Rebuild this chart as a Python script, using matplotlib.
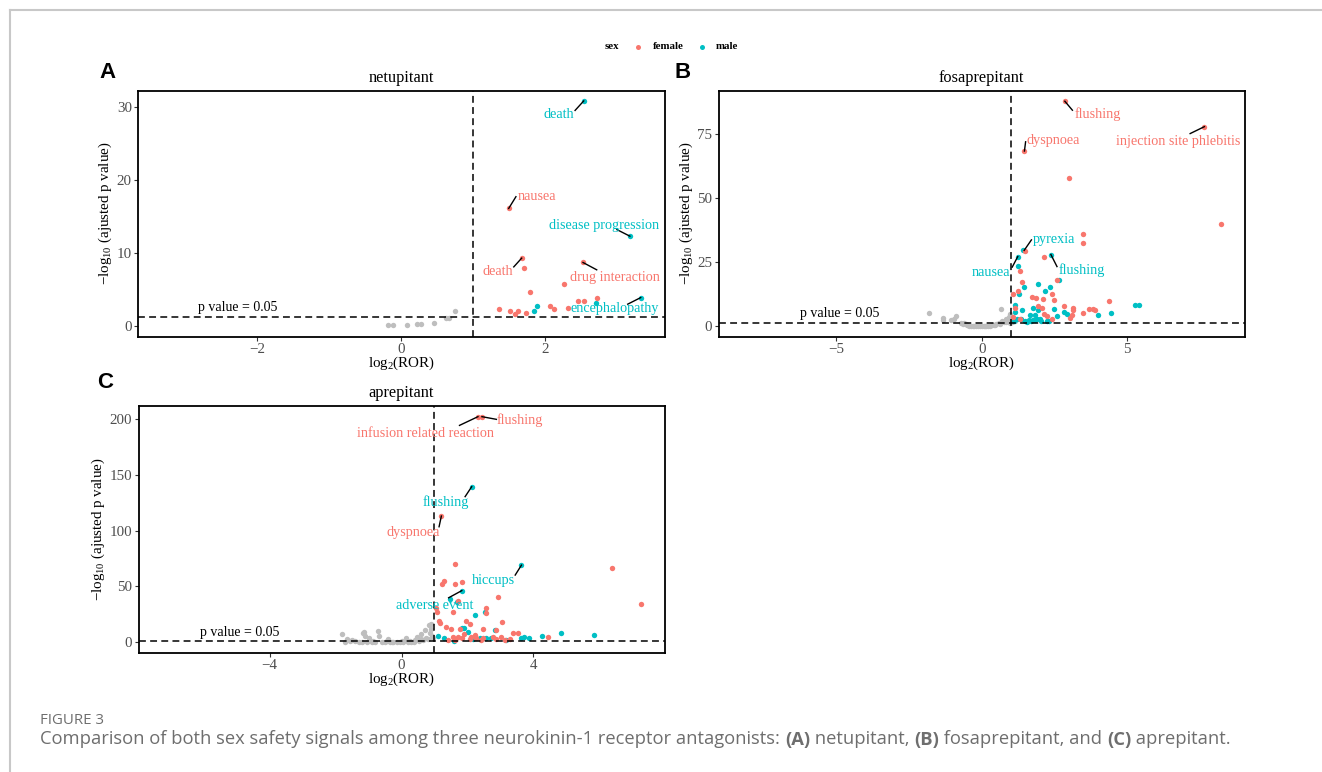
import matplotlib
matplotlib.use("Agg")
import matplotlib.pyplot as plt
from matplotlib.lines import Line2D

plt.rcParams['font.family'] = ['Liberation Serif', 'DejaVu Serif']
plt.rcParams['mathtext.fontset'] = 'custom'
plt.rcParams['mathtext.rm'] = 'Liberation Serif'
plt.rcParams['mathtext.it'] = 'Liberation Serif:italic'
plt.rcParams['mathtext.bf'] = 'Liberation Serif:bold'

FEMALE = '#F8766D'
MALE = '#00BFC4'
GREY = '#BEBEBE'

# ---------------- Panel A: netupitant ----------------
a_f_x = [1.49, 1.67, 1.70, 2.52, 2.26, 1.79, 2.45, 2.53, 2.71, 1.35, 1.51, 1.58, 1.62, 1.73, 2.06, 2.12, 2.31]
a_f_y = [16.1, 9.3, 8.0, 8.7, 5.7, 4.6, 3.4, 3.5, 3.8, 2.4, 2.0, 1.7, 2.1, 1.8, 2.8, 2.3, 2.5]
a_m_x = [2.53, 3.17, 3.32, 2.70, 1.88, 1.84]
a_m_y = [30.8, 12.3, 3.9, 3.1, 2.7, 2.1]
a_g_x = [0.75, 0.66, 0.62, 0.45, 0.27, 0.22, 0.08, -0.11, -0.18]
a_g_y = [2.0, 1.1, 1.1, 0.36, 0.3, 0.3, 0.2, 0.1, 0.2]
a_labels = ['death', 'nausea', 'disease progression', 'death', 'drug interaction', 'encephalopathy']
a_label_sex = ['male', 'female', 'male', 'female', 'female', 'male']
a_label_px = [2.53, 1.49, 3.17, 1.67, 2.52, 3.32]
a_label_py = [30.8, 16.1, 12.3, 9.3, 8.7, 3.9]
a_label_tx = [2.19, 1.88, 2.81, 1.34, 2.96, 2.96]
a_label_ty = [29.0, 17.7, 13.8, 7.5, 6.6, 2.4]
a_label_sx = [2.41, 1.59, 2.99, 1.56, 2.71, 3.14]
a_label_sy = [29.5, 17.7, 13.2, 8.1, 7.7, 3.0]

# ---------------- Panel B: fosaprepitant ----------------
b_f_x = [2.86, 7.66, 1.47, 2.99, 8.22, 3.49, 3.49, 1.48, 2.13, 1.33, 1.39, 2.58, 1.08, 1.24, 1.86, 2.10,
         2.41, 2.47, 1.74, 1.93, 2.07, 1.13, 1.08, 1.31, 2.13, 2.24, 2.84, 3.15, 3.15, 3.49, 3.69, 3.83,
         3.89, 3.09, 3.03, 4.38, 2.41]
b_f_y = [87.7, 77.8, 68.3, 57.9, 40.0, 36.1, 32.4, 29.4, 26.9, 21.6, 17.4, 18.0, 12.8, 13.7, 11.1, 10.8,
         12.8, 10.2, 11.5, 8.1, 7.3, 7.2, 3.7, 3.0, 4.7, 3.9, 7.8, 7.3, 6.5, 5.2, 6.9, 6.9,
         6.3, 4.3, 3.3, 9.8, 3.0]
b_m_x = [1.43, 1.24, 2.38, 1.24, 1.44, 1.30, 1.95, 2.18, 2.35, 2.67, 1.16, 1.39, 1.78, 1.95, 2.49, 2.83,
         2.92, 4.00, 4.45, 5.28, 5.40, 1.16, 1.22, 1.35, 1.61, 1.76, 1.90, 2.01, 1.84, 1.67, 2.24, 2.58,
         1.10, 1.48, 1.55, 1.70, 1.85, 2.05, 2.30]
b_m_y = [29.8, 27.2, 28.0, 23.5, 15.4, 12.8, 16.5, 13.8, 15.4, 18.0, 8.2, 6.5, 7.3, 6.3, 6.9, 5.6,
         4.7, 4.3, 5.2, 8.2, 8.5, 5.6, 3.0, 3.0, 2.6, 2.6, 3.0, 3.0, 4.6, 4.3, 2.3, 3.9,
         2.0, 2.2, 1.9, 2.1, 2.4, 2.0, 2.2]
b_g_x = [-1.82, -1.34, -1.34, -1.06, -0.94, -0.89, -0.60, -0.49, -0.26, 0.08, 0.42, 0.65, 0.70, 0.82,
         0.93, 0.99, -0.70, -0.55, -0.45, -0.38, -0.30, -0.20, -0.12, -0.05, 0.02, 0.12, 0.20, 0.28,
         0.35, 0.50, 0.58, 0.75, 0.85, 0.90, -0.65, 0.15, 0.45, 0.62, 0.96, 1.05, 1.15]
b_g_y = [5.4, 3.4, 2.6, 2.6, 3.0, 3.9, 1.4, 0.4, 0.0, 0.0, 0.6, 6.9, 2.3, 3.0,
         3.7, 5.0, 1.2, 0.8, 0.3, 0.2, 0.1, 0.0, 0.2, 0.1, 0.0, 0.1, 0.2, 0.1,
         0.4, 0.9, 1.2, 1.6, 1.9, 2.6, 0.9, 0.3, 0.5, 1.0, 1.4, 1.8, 2.2]
b_labels = ['flushing', 'injection site phlebitis', 'dyspnoea', 'pyrexia', 'nausea', 'flushing']
b_label_sex = ['female', 'female', 'female', 'male', 'male', 'male']
b_label_px = [2.86, 7.66, 1.47, 1.46, 1.24, 2.38]
b_label_py = [87.7, 77.8, 68.3, 29.6, 27.2, 28.0]
b_label_tx = [3.99, 6.75, 2.47, 2.47, 0.30, 3.45]
b_label_ty = [82.5, 72.2, 72.5, 33.7, 21.1, 21.8]
b_label_sx = [3.12, 7.17, 1.51, 1.71, 1.05, 2.59]
b_label_sy = [84.2, 75.1, 71.9, 33.7, 23.1, 23.3]

# ---------------- Panel C: aprepitant ----------------
c_f_x = [2.32, 2.44, 1.21, 1.63, 6.40, 7.26, 1.22, 1.28, 1.63, 1.83, 2.93, 1.71, 2.57, 2.55, 1.56, 1.05,
         1.07, 1.13, 1.18, 1.34, 1.96, 2.07, 3.05, 1.49, 1.78, 2.47, 2.88, 3.39, 3.54, 4.45, 3.28, 3.01,
         2.22, 1.91, 1.71, 1.56, 2.27, 2.47, 2.78, 2.07, 1.61, 1.84, 2.12, 2.42, 2.88, 1.40, 3.15]
c_f_y = [201.8, 201.8, 113.0, 69.7, 66.8, 34.6, 52.3, 55.3, 52.3, 53.8, 40.3, 36.7, 30.7, 26.2, 26.8, 30.7,
         26.8, 19.3, 17.2, 13.9, 19.3, 16.9, 18.4, 11.8, 12.4, 12.4, 11.2, 8.2, 8.5, 4.9, 3.4, 5.2,
         6.4, 7.3, 4.9, 4.9, 3.7, 4.3, 4.9, 2.8, 2.5, 4.3, 4.9, 2.5, 2.8, 2.2, 2.0]
c_m_x = [2.13, 3.64, 1.83, 1.46, 1.69, 2.54, 2.24, 1.84, 1.90, 2.02, 2.85, 1.10, 1.30, 2.73, 2.57, 3.62,
         3.72, 3.87, 4.26, 4.84, 5.84, 1.58, 2.17, 2.37, 3.18]
c_m_y = [139.2, 69.1, 46.3, 38.8, 36.4, 26.8, 24.4, 13.0, 13.0, 9.7, 10.9, 5.8, 4.3, 4.3, 4.3, 4.3,
         4.9, 4.3, 5.8, 8.8, 6.4, 1.3, 2.8, 4.3, 2.5]
c_g_x = [-1.81, -1.18, -1.11, -0.71, -0.68, -1.64, -1.49, -0.98, -0.42, 0.14, 0.46, 0.59, 0.70, 0.83,
         0.90, 0.75, 0.85, -1.13, -1.55, -1.40, -1.30, -1.20, -1.05, -0.90, -0.80, -0.60, -0.50, -0.35,
         -0.25, -0.15, -0.05, 0.05, 0.20, 0.30, 0.38, 0.52, 0.65, 0.80, 0.95, -0.85, -0.45, 0.00, 0.25,
         0.60, 0.92, -1.70, -1.00, -0.30, 0.40, 0.88]
c_g_y = [7.2, 8.2, 5.8, 10.1, 5.8, 3.4, 2.2, 3.7, 3.4, 4.3, 4.9, 7.3, 10.9, 15.7,
         16.9, 4.3, 8.8, 9.5, 1.5, 1.0, 0.8, 0.6, 0.5, 0.4, 0.3, 0.2, 0.1, 0.1,
         0.0, 0.0, 0.1, 0.2, 0.3, 0.5, 0.8, 1.2, 2.0, 2.6, 3.5, 1.5, 1.2, 1.0, 1.6,
         3.0, 6.0, 0.8, 2.0, 0.8, 2.4, 12.0]
c_labels = ['flushing', 'infusion related reaction', 'flushing', 'dyspnoea', 'hiccups', 'adverse event']
c_label_sex = ['female', 'female', 'male', 'female', 'male', 'male']
c_label_px = [2.44, 2.32, 2.13, 1.21, 3.64, 1.83]
c_label_py = [201.8, 201.8, 139.2, 113.0, 69.1, 46.3]
c_label_tx = [3.59, 0.73, 1.34, 0.36, 2.79, 1.00]
c_label_ty = [198.8, 186.9, 125.8, 98.4, 55.7, 32.8]
c_label_sx = [2.88, 1.76, 1.93, 1.14, 3.45, 1.43]
c_label_sy = [199.4, 194.0, 130.3, 103.4, 60.2, 39.9]

pval_line = 1.30103  # -log10(0.05)

W, H = 1322, 772
fig = plt.figure(figsize=(W / 100, H / 100), dpi=100)
fig.patch.set_facecolor('white')


def px_rect(l, t, r, b):
    return [l / W, 1 - b / H, (r - l) / W, (b - t) / H]


def panel(rect, title, letter, letter_xy, gx, gy, mx, my, fx, fy,
          labels, lsex, lpx, lpy, ltx, lty, lsx, lsy,
          xlim, ylim, xticks, yticks, ptext_xy):
    ax = fig.add_axes(rect)
    ax.scatter(gx, gy, s=15, color=GREY, linewidths=0, zorder=2)
    ax.scatter(mx, my, s=15, color=MALE, linewidths=0, zorder=3)
    ax.scatter(fx, fy, s=15, color=FEMALE, linewidths=0, zorder=3)
    ax.axvline(1, color='black', lw=1.1, linestyle=(0, (4.5, 2.8)), zorder=4)
    ax.axhline(pval_line, color='black', lw=1.1, linestyle=(0, (4.5, 2.8)), zorder=4)
    ax.text(ptext_xy[0], ptext_xy[1], 'p value = 0.05', fontsize=10, ha='center',
            va='baseline', color='black', zorder=5)
    for lab, sx_, px_, py_, tx_, ty_, ex_, ey_ in zip(labels, lsex, lpx, lpy, ltx, lty, lsx, lsy):
        col = MALE if sx_ == 'male' else FEMALE
        ax.plot([px_, ex_], [py_, ey_], color='black', lw=1.0, zorder=5)
        ax.text(tx_, ty_, lab, color=col, fontsize=10.2, ha='center', va='center', zorder=6)
    ax.set_xlim(*xlim)
    ax.set_ylim(*ylim)
    ax.set_xticks(xticks)
    ax.set_yticks(yticks)
    ax.set_xticklabels([str(t).replace('-', '\u2212') for t in xticks])
    ax.tick_params(axis='both', labelsize=10.8, labelcolor='#4D4D4D', color='#333333',
                   length=3, width=0.8, pad=1.5)
    for sp in ax.spines.values():
        sp.set_linewidth(1.3)
        sp.set_color('black')
    ax.set_title(title, fontsize=11.8, pad=6)
    ax.set_xlabel(r'$\mathrm{log}_{2}$(ROR)', fontsize=10.8, labelpad=-1)
    ax.set_ylabel(r'$-\mathrm{log}_{10}$ (ajusted p value)', fontsize=10.8, labelpad=2)
    fig.text(letter_xy[0] / W, 1 - letter_xy[1] / H, letter, fontsize=16, fontweight='bold',
             family=['Liberation Sans', 'DejaVu Sans'], ha='center', va='center')
    return ax


panel(px_rect(138, 90.7, 664.5, 336.7), 'netupitant', 'A', (107, 73),
      a_g_x, a_g_y, a_m_x, a_m_y, a_f_x, a_f_y,
      a_labels, a_label_sex, a_label_px, a_label_py, a_label_tx, a_label_ty, a_label_sx, a_label_sy,
      (-3.65, 3.65), (-1.45, 32.2), [-2, 0, 2], [0, 10, 20, 30], (-2.27, 2.0))

panel(px_rect(718.6, 90.7, 1244.8, 336.7), 'fosaprepitant', 'B', (683, 72),
      b_g_x, b_g_y, b_m_x, b_m_y, b_f_x, b_f_y,
      b_labels, b_label_sex, b_label_px, b_label_py, b_label_tx, b_label_ty, b_label_sx, b_label_sy,
      (-9.05, 9.05), (-4.0, 91.8), [-5, 0, 5], [0, 25, 50, 75], (-4.89, 3.6))

panel(px_rect(138.5, 405.7, 664.5, 652.7), 'aprepitant', 'C', (105, 382),
      c_g_x, c_g_y, c_m_x, c_m_y, c_f_x, c_f_y,
      c_labels, c_label_sex, c_label_px, c_label_py, c_label_tx, c_label_ty, c_label_sx, c_label_sy,
      (-7.98, 7.98), (-9.2, 211.6), [-4, 0, 4], [0, 50, 100, 150, 200], (-4.92, 6.0))

# ---------------- Legend ----------------
leg_y = 1 - 46.5 / H
fig.text(611.7 / W, leg_y, 'sex', fontsize=7.8, fontweight='bold', ha='center', va='center')
fig.add_artist(Line2D([637.7 / W], [leg_y], marker='o', markersize=3.6, color=FEMALE,
                      markeredgewidth=0, linestyle='none', transform=fig.transFigure))
fig.text(668 / W, leg_y, 'female', fontsize=7.8, fontweight='bold', ha='center', va='center')
fig.add_artist(Line2D([701.7 / W], [leg_y], marker='o', markersize=3.6, color=MALE,
                      markeredgewidth=0, linestyle='none', transform=fig.transFigure))
fig.text(726.7 / W, leg_y, 'male', fontsize=7.8, fontweight='bold', ha='center', va='center')

# ---------------- Frame lines ----------------
fig.add_artist(Line2D([10 / W, 1], [1 - 10 / H, 1 - 10 / H], color='#C8C8C8', lw=1.5,
                      transform=fig.transFigure))
fig.add_artist(Line2D([10 / W, 10 / W], [0, 1 - 10 / H], color='#C8C8C8', lw=1.5,
                      transform=fig.transFigure))

# ---------------- Caption ----------------
cap_font = ['Open Sans', 'DejaVu Sans']
fig.text(40.5 / W, 1 - 721 / H, 'FIGURE 3', fontsize=10.8, color='#6E6E6E', family=cap_font,
         ha='left', va='center')
caption_parts = [
    ('Comparison of both sex safety signals among three neurokinin-1 receptor antagonists: ', 'normal'),
    ('(A)', 'bold'), (' netupitant, ', 'normal'), ('(B)', 'bold'), (' fosaprepitant, and ', 'normal'),
    ('(C)', 'bold'), (' aprepitant.', 'normal')]
renderer = fig.canvas.get_renderer()
xcur = 40.5 / W
for txt, wt in caption_parts:
    t = fig.text(xcur, 1 - 739.5 / H, txt, fontsize=13.2, color='#6E6E6E', family=cap_font,
                 fontweight=wt, ha='left', va='center')
    bb = t.get_window_extent(renderer)
    xcur = bb.x1 / W

fig.savefig('out.png', dpi=100, facecolor='white')
